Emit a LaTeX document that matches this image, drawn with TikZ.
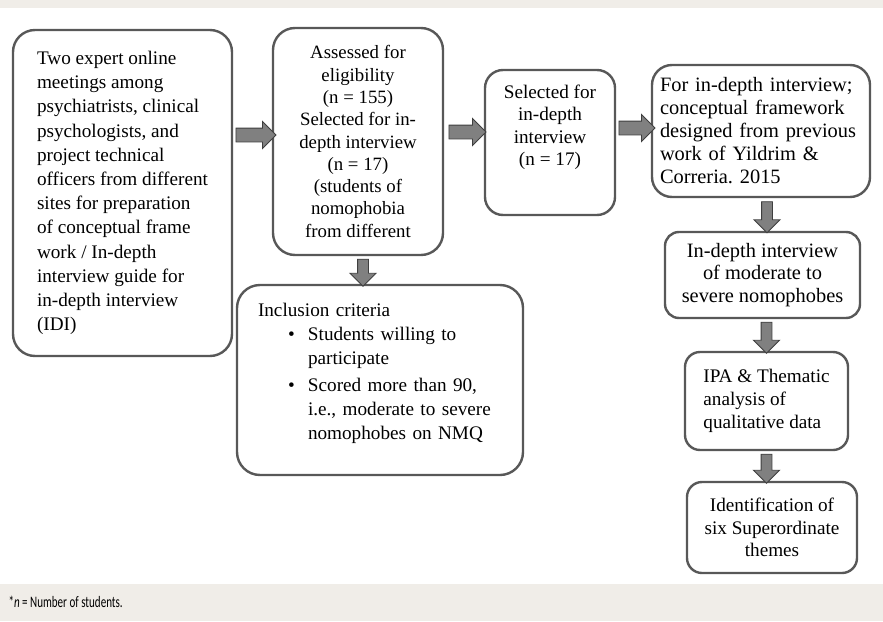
\documentclass[tikz,border=0pt]{standalone}
\usepackage{fontspec}
\setmainfont{Liberation Serif}
\newfontfamily\notefont[FakeStretch=0.69]{Carlito}
\usetikzlibrary{shapes.arrows,calc}
\definecolor{band}{HTML}{F0EDE8}
\definecolor{boxline}{HTML}{585858}
\definecolor{arrowfill}{HTML}{808080}
\definecolor{arrowline}{HTML}{3F3F3F}

\begin{document}
\begin{tikzpicture}[
    x=1pt, y=-1pt,
    every node/.style={font=\fontsize{19.2}{23}\selectfont},
    stage/.style={draw=boxline, line width=2.4pt, rounded corners=#1, inner sep=0pt, fill=white},
    stage/.default=16pt,
    flow/.style={single arrow, draw=arrowline, fill=arrowfill, line width=0.9pt,
                 inner xsep=0pt, minimum width=0pt, single arrow tip angle=90,
                 sloped, allow upside down},
    flowh/.style={flow, inner ysep=6.5pt, single arrow head extend=6.5pt},
    flowv/.style={flow, inner ysep=5pt, single arrow head extend=7.5pt}
]

% Page frame and grey bands
\useasboundingbox (0,0) rectangle (883,621);
\fill[band] (0,0) rectangle (883,8);
\fill[band] (0,584) rectangle (883,621);

% Left column
\node[stage=22pt, minimum width=219pt, minimum height=326pt, align=left,
      font=\fontsize{19.2}{24.2}\selectfont] (meet) at (122.5,193)
  {Two expert online\\meetings among\\psychiatrists, clinical\\psychologists, and\\project technical\\officers from different\\sites for preparation\\of conceptual frame\\work / In-depth\\interview guide for\\in-depth interview\\(IDI)};

% Middle column
\node[stage=22pt, minimum width=170pt, minimum height=227pt, align=center,
      font=\fontsize{18.8}{22.3}\selectfont] (assess) at (358,141.5)
  {Assessed for\\eligibility\\(n = 155)\\Selected for in-\\depth interview\\(n = 17)\\(students of\\nomophobia\\from different};
\node[stage=23pt, minimum width=286pt, minimum height=190pt, text width=244pt, align=left,
      font=\fontsize{19.2}{24}\selectfont] (incl) at (380,380)
  {Inclusion criteria\\
   \hspace*{30pt}\makebox[20pt][l]{\textbullet}Students willing to\\
   \hspace*{50pt}participate\\[3pt]
   \hspace*{30pt}\makebox[20pt][l]{\textbullet}Scored more than 90,\\
   \hspace*{50pt}i.e., moderate to severe\\
   \hspace*{50pt}nomophobes on NMQ\\[-6pt]\mbox{}};
\node[stage=18pt, minimum width=130pt, minimum height=145pt, align=center,
      font=\fontsize{19.2}{22.3}\selectfont] (select) at (550,142.5)
  {Selected for\\in-depth\\interview\\(n = 17)\\[12pt]\mbox{}};

% Right column
\node[stage=20pt, minimum width=218pt, minimum height=132pt, text width=202pt, align=left,
      font=\fontsize{20.4}{23}\selectfont] (frame) at (761,131)
  {For in-depth interview;\\conceptual framework\\designed from previous\\work of Yildrim \&\\Correria.\ 2015};
\node[stage=14pt, minimum width=195pt, minimum height=86pt, align=center,
      font=\fontsize{20.4}{22.5}\selectfont] (idi) at (762.5,275)
  {In-depth interview\\of moderate to\\severe nomophobes};
\node[stage=15pt, minimum width=163pt, minimum height=98pt, align=left] (ipa) at (766.5,401)
  {IPA \& Thematic\\analysis of\\qualitative data};
\node[stage=15pt, minimum width=170pt, minimum height=91pt, align=center,
      font=\fontsize{19.2}{22.5}\selectfont] (themes) at (772,527.5)
  {Identification of\\six Superordinate\\themes};

% Block arrows
\coordinate (a1) at ([yshift=6.5pt]assess.west);
\coordinate (a2) at ([yshift=10.5pt]select.west);
\coordinate (a3) at ([yshift=3pt]frame.west);
\coordinate (d1) at ([xshift=5pt]assess.south);
\coordinate (d2) at ([xshift=6pt]frame.south);
\path (meet.east |- a1) -- node[flowh, minimum height=40pt] {} (a1);
\path (assess.east |- a2) -- node[flowh, minimum height=37pt] {} (a2);
\path (select.east |- a3) -- node[flowh, minimum height=36pt] {} (a3);
\path (d1) -- node[flowv, minimum height=27pt] {} (d1 |- incl.north);
\path (d2) -- node[flowv, minimum height=31pt] {} (d2 |- idi.north);
\path (ipa.north |- idi.south) -- node[flowv, minimum height=31pt] {} (ipa.north);
\path (ipa.south) -- node[flowv, minimum height=29pt] {} (ipa.south |- themes.north);

% Footnote
\node[anchor=west, font={\notefont\fontsize{16}{18}\selectfont}] (note) at (5,602)
  {*\textit{n} = Number of students.};

\end{tikzpicture}
\end{document}
